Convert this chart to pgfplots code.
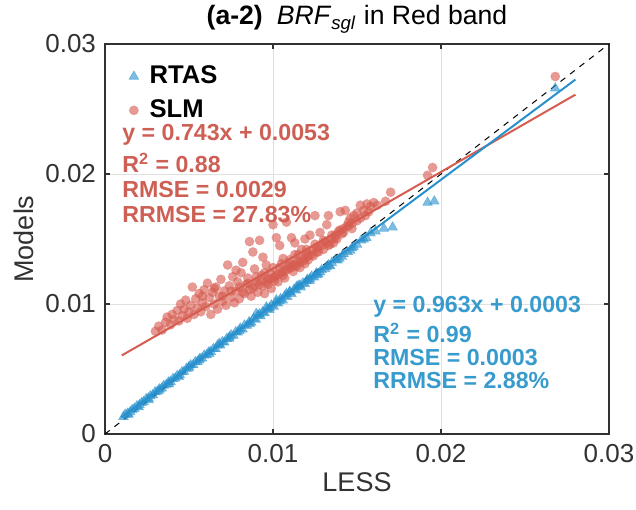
\documentclass[border=0pt]{standalone}
\usepackage{fontspec}
\setmainfont{Liberation Sans}
\usepackage{pgfplots}
\pgfplotsset{compat=1.18}
\definecolor{redc}{RGB}{214,92,80}
\definecolor{redt}{RGB}{205,95,85}
\definecolor{bluec}{RGB}{40,145,205}
\definecolor{bluet}{RGB}{55,155,205}
\definecolor{axc}{RGB}{50,50,50}
\begin{document}
\begin{tikzpicture}
\useasboundingbox (-52.5pt,-37.5pt) rectangle (265.5pt,217pt);
\begin{axis}[
  at={(0pt,0pt)}, anchor=south west,
  scale only axis, width=252pt, height=195pt,
  xmin=0, xmax=0.03, ymin=0, ymax=0.03,
  scaled ticks=false,
  xtick={0,0.01,0.02,0.03}, xticklabels={0,0.01,0.02,0.03},
  ytick={0,0.01,0.02,0.03}, yticklabels={0,0.01,0.02,0.03},
  /pgf/number format/assume math mode=true,
  tick align=inside, tick pos=both, major tick length=2.5pt,
  grid=major, grid style={draw=black!12, line width=0.5pt},
  axis line style={draw=axc, line width=0.7pt},
  tick style={draw=axc, line width=0.6pt},
  tick label style={font=\fontsize{13}{15}\selectfont, text=axc},
  xticklabel style={yshift=-1.5pt},
  yticklabel style={xshift=-1pt},
  xlabel={LESS}, ylabel={Models},
  label style={font=\fontsize{13.5}{15}\selectfont, text=axc},
  xlabel style={yshift=2pt},
  ylabel style={yshift=-1pt},
  title={{\bfseries (a-2)}\hspace{7pt}\textit{BRF}\textsubscript{\textit{sgl}} in Red band},
  title style={font=\fontsize{13.3}{15}\selectfont, yshift=-4pt},
  legend style={at={(0.035,0.965)}, anchor=north west, draw=none, fill=none,
    font=\fontsize{12.8}{15}\selectfont\bfseries, row sep=2.5pt,
    legend cell align=left},
  legend image code/.code={\draw[#1] plot coordinates {(0.3cm,0cm)}; \path (0.5cm,0cm);},
]
\addplot[bluec, only marks, mark=triangle*, mark size=2.8pt,
  mark options={fill=bluec, draw=bluec, fill opacity=0.6, draw opacity=0.5, line width=0.3pt}]
coordinates {
(0.00110,0.00133)(0.00120,0.00150)(0.00135,0.00158)(0.00150,0.00170)(0.00162,0.00186)
(0.00175,0.00195)(0.00190,0.00215)(0.00205,0.00224)(0.00218,0.00240)(0.00230,0.00248)
(0.00245,0.00270)(0.00258,0.00275)(0.00270,0.00292)(0.00285,0.00300)(0.00298,0.00322)
(0.00310,0.00326)(0.00325,0.00345)(0.00338,0.00352)(0.00350,0.00372)(0.00365,0.00380)
(0.00378,0.00398)(0.00390,0.00402)(0.00405,0.00425)(0.00418,0.00428)(0.00430,0.00448)
(0.00445,0.00455)(0.00458,0.00476)(0.00470,0.00480)(0.00485,0.00503)(0.00498,0.00505)
(0.00510,0.00530)(0.00525,0.00533)(0.00538,0.00555)(0.00550,0.00556)(0.00565,0.00580)
(0.00578,0.00582)(0.00590,0.00605)(0.00605,0.00608)(0.00618,0.00630)(0.00630,0.00632)
(0.00645,0.00655)(0.00658,0.00656)(0.00670,0.00682)(0.00685,0.00683)(0.00698,0.00708)
(0.00710,0.00705)(0.00725,0.00733)(0.00738,0.00734)(0.00750,0.00760)(0.00765,0.00757)
(0.00778,0.00785)(0.00790,0.00782)(0.00805,0.00812)(0.00818,0.00806)(0.00830,0.00836)
(0.00845,0.00834)(0.00858,0.00862)(0.00870,0.00858)(0.00885,0.00888)(0.00898,0.00880)
(0.00910,0.00912)(0.00925,0.00907)(0.00938,0.00938)(0.00950,0.00930)(0.00965,0.00962)
(0.00978,0.00955)(0.00990,0.00990)(0.01005,0.00980)(0.01018,0.01012)(0.01030,0.01005)
(0.01045,0.01040)(0.01058,0.01028)(0.01070,0.01062)(0.01085,0.01055)(0.01098,0.01090)
(0.01110,0.01078)(0.01125,0.01112)(0.01138,0.01105)(0.01150,0.01140)(0.01165,0.01128)
(0.01178,0.01160)(0.01190,0.01155)(0.01205,0.01188)(0.01218,0.01178)(0.01230,0.01212)
(0.01245,0.01205)(0.01258,0.01238)(0.01270,0.01228)(0.01290,0.01262)(0.01310,0.01270)
(0.01330,0.01300)(0.01350,0.01318)(0.01372,0.01340)(0.01395,0.01350)(0.01420,0.01385)
(0.01445,0.01400)(0.01470,0.01430)(0.01500,0.01458)(0.01525,0.01490)(0.01555,0.01510)
(0.01580,0.01545)(0.01660,0.01580)(0.01712,0.01590)(0.01920,0.01780)(0.01960,0.01790)
(0.02680,0.02660)
(0.00140,0.00150)(0.00200,0.00208)(0.00260,0.00262)(0.00320,0.00335)(0.00380,0.00385)
(0.00440,0.00440)(0.00500,0.00518)(0.00560,0.00568)(0.00620,0.00618)(0.00680,0.00695)
(0.00740,0.00745)(0.00800,0.00795)(0.00860,0.00848)(0.00920,0.00922)(0.00980,0.00970)
(0.01040,0.01022)(0.01100,0.01095)(0.01160,0.01145)(0.01220,0.01195)(0.01280,0.01245)
(0.01340,0.01292)(0.01410,0.01365)(0.01480,0.01440)(0.01540,0.01498)(0.01610,0.01560)
(0.00900,0.00925)(0.00960,0.00975)(0.01020,0.01030)(0.01080,0.01080)(0.01140,0.01132)
(0.01200,0.01178)(0.01260,0.01222)(0.01320,0.01284)(0.01385,0.01336)(0.01460,0.01412)
};
\addlegendentry{RTAS}
\addplot[redc, only marks, mark=*, mark size=2.35pt,
  mark options={fill=redc, draw=redc, fill opacity=0.62, draw opacity=0.25, line width=0.2pt}]
coordinates {
(0.0030,0.0079)(0.0032,0.0083)(0.0034,0.0080)(0.0036,0.0086)(0.0037,0.0090)
(0.0039,0.0084)(0.0040,0.0092)(0.0041,0.0088)(0.0043,0.0095)(0.0044,0.0087)
(0.0045,0.0100)(0.0046,0.0091)(0.0047,0.0096)(0.0048,0.0103)(0.0049,0.0089)
(0.0050,0.0094)(0.0051,0.0099)(0.0052,0.0113)(0.0053,0.0092)(0.0054,0.0104)
(0.0055,0.0097)(0.0056,0.0108)(0.0057,0.0094)(0.0058,0.0101)(0.0059,0.0111)
(0.0060,0.0098)(0.0061,0.0116)(0.0062,0.0105)(0.0063,0.0092)(0.0064,0.0109)
(0.0065,0.0100)(0.0066,0.0113)(0.0067,0.0096)(0.0068,0.0106)(0.0069,0.0119)
(0.0070,0.0102)(0.0071,0.0110)(0.0072,0.0099)(0.0073,0.0130)(0.0074,0.0114)
(0.0075,0.0105)(0.0076,0.0121)(0.0077,0.0101)(0.0078,0.0110)(0.0079,0.0117)
(0.0080,0.0104)(0.0081,0.0124)(0.0082,0.0132)(0.0083,0.0108)(0.0084,0.0115)
(0.0085,0.0120)(0.0086,0.0148)(0.0087,0.0106)(0.0088,0.0112)(0.0089,0.0127)
(0.0090,0.0117)(0.0091,0.0109)(0.0092,0.0149)(0.0093,0.0122)(0.0094,0.0114)
(0.0095,0.0108)(0.0096,0.0130)(0.0097,0.0119)(0.0098,0.0124)(0.0099,0.0112)
(0.0100,0.0161)(0.0101,0.0121)(0.0102,0.0151)(0.0103,0.0117)(0.0104,0.0128)
(0.0105,0.0124)(0.0106,0.0135)(0.0107,0.0120)(0.0108,0.0163)(0.0109,0.0127)
(0.0110,0.0131)(0.0111,0.0151)(0.0112,0.0125)(0.0113,0.0138)(0.0114,0.0129)
(0.0115,0.0133)(0.0116,0.0128)(0.0117,0.0142)(0.0118,0.0135)(0.0119,0.0131)
(0.0120,0.0139)(0.0121,0.0134)(0.0122,0.0153)(0.0123,0.0141)(0.0124,0.0137)
(0.0125,0.0168)(0.0126,0.0143)(0.0127,0.0140)(0.0128,0.0155)(0.0129,0.0145)
(0.0130,0.0142)(0.0131,0.0148)(0.0132,0.0161)(0.0133,0.0168)(0.0134,0.0146)
(0.0135,0.0150)(0.0136,0.0147)(0.0137,0.0153)(0.0138,0.0150)(0.0139,0.0156)
(0.0140,0.0171)(0.0141,0.0154)(0.0142,0.0158)(0.0143,0.0172)(0.0144,0.0160)
(0.0145,0.0163)(0.0146,0.0166)(0.0147,0.0162)(0.0148,0.0168)(0.0150,0.0170)
(0.0152,0.0176)(0.0154,0.0172)(0.0156,0.0177)(0.0158,0.0175)(0.0160,0.0178)
(0.0162,0.0176)(0.0167,0.0179)(0.0170,0.0186)(0.0192,0.0199)(0.0195,0.0205)
(0.0268,0.0275)
(0.0070,0.0106)(0.0075,0.0110)(0.0080,0.0113)(0.0085,0.0116)(0.0090,0.0121)
(0.0095,0.0124)(0.0100,0.0128)(0.0105,0.0131)(0.0110,0.0134)(0.0115,0.0138)
(0.0120,0.0142)(0.0125,0.0146)(0.0130,0.0149)(0.0135,0.0153)(0.0140,0.0157)
(0.0145,0.0160)(0.0150,0.0164)(0.0155,0.0168)(0.0089,0.0114)(0.0093,0.0118)
(0.0097,0.0115)(0.0101,0.0118)(0.0106,0.0122)(0.0112,0.0130)(0.0118,0.0133)
(0.0123,0.0138)(0.0078,0.0126)(0.0088,0.0140)(0.0094,0.0136)(0.0104,0.0145)
(0.0113,0.0147)(0.0119,0.0150)(0.0065,0.0112)(0.0058,0.0106)
(0.0098,0.0119)(0.0102,0.0122)(0.0108,0.0126)(0.0111,0.0128)(0.0116,0.0132)
(0.0121,0.0137)(0.0127,0.0144)(0.0132,0.0147)(0.0137,0.0151)(0.0142,0.0155)
(0.0147,0.0158)(0.0152,0.0166)(0.0157,0.0171)(0.0103,0.0123)(0.0109,0.0129)
(0.0082,0.0109)(0.0086,0.0111)(0.0092,0.0115)(0.0096,0.0117)(0.0100,0.0120)
(0.0106,0.0125)(0.0114,0.0131)(0.0120,0.0136)(0.0126,0.0140)(0.0133,0.0145)
};
\addlegendentry{SLM}
\addplot[forget plot, black, dashed, line width=0.5pt] coordinates {(0,0)(0.03,0.03)};
\addplot[forget plot, redc, line width=1pt] coordinates {(0.0010,0.006043)(0.0280,0.026104)};
\addplot[forget plot, bluec, line width=1pt] coordinates {(0.0010,0.001263)(0.0280,0.027264)};
\begin{scope}[every node/.style={anchor=west, font=\fontsize{11.6}{13}\selectfont\bfseries, inner sep=0pt}]
\node[text=redt] at (axis cs:0.00101,0.02300) {y = 0.743x + 0.0053};
\node[text=redt] at (axis cs:0.00101,0.02085) {R\textsuperscript{2} = 0.88};
\node[text=redt] at (axis cs:0.00101,0.01877) {RMSE = 0.0029};
\node[text=redt] at (axis cs:0.00101,0.01685) {RRMSE = 27.83\%};
\node[text=bluet] at (axis cs:0.01595,0.00977) {y = 0.963x + 0.0003};
\node[text=bluet] at (axis cs:0.01595,0.00777) {R\textsuperscript{2} = 0.99};
\node[text=bluet] at (axis cs:0.01595,0.00592) {RMSE = 0.0003};
\node[text=bluet] at (axis cs:0.01595,0.00408) {RRMSE = 2.88\%};
\end{scope}
\end{axis}
\end{tikzpicture}
\end{document}
